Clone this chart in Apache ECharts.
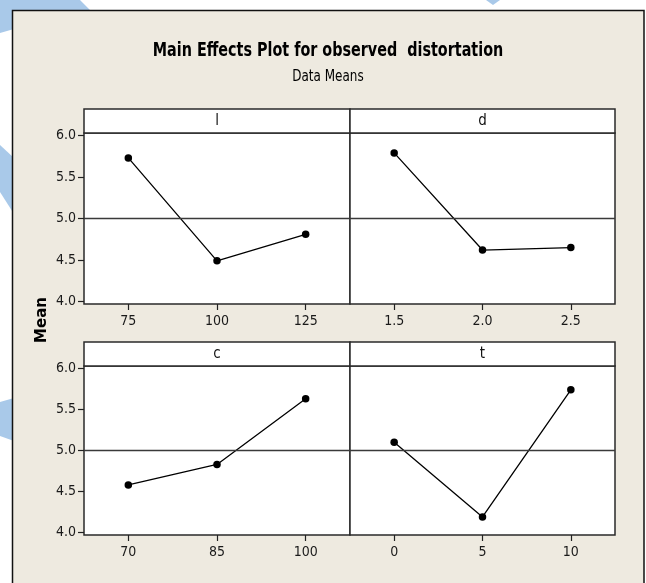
<!DOCTYPE html>
<html>
<head>
<meta charset="utf-8">
<script src="https://cdn.jsdelivr.net/npm/echarts@6/dist/echarts.min.js"></script>
<style>
html,body{margin:0;padding:0;background:#ffffff;}
#main{width:646px;height:583px;}
</style>
</head>
<body>
<div id="main"></div>
<script>
// ---- data ----
const chartTitle = 'Main Effects Plot for observed  distortation';
const chartSubtitle = 'Data Means';
const yAxisName = 'Mean';
const factors = ['l', 'd', 'c', 't'];
const levelsL = [75, 100, 125];
const meansL = [5.73, 4.49, 4.81];
const levelsD = [1.5, 2.0, 2.5];
const meansD = [5.79, 4.62, 4.65];
const levelsC = [70, 85, 100];
const meansC = [4.58, 4.83, 5.63];
const levelsT = [0, 5, 10];
const meansT = [5.10, 4.19, 5.74];
const levelDecimals = [0, 1, 0, 0];
const yTicks = [4.0, 4.5, 5.0, 5.5, 6.0];
const grandMean = 5.0;
const yMin = 3.97, yMax = 6.03;

const levels = [levelsL, levelsD, levelsC, levelsT];
const means = [meansL, meansD, meansC, meansT];

// ---- layout ----
const narrow = "'Liberation Sans Narrow','DejaVu Sans Condensed','Arial Narrow',sans-serif";
const panelLeft = [84, 350, 84, 350];
const panelWidth = [266, 265, 266, 265];
const panelTop = [133, 133, 366, 366];
const panelHeight = [171, 171, 169, 169];
const headerH = 24;

const chart = echarts.init(document.getElementById('main'), null, {renderer: 'canvas'});

const grids = [], xAxes = [], yAxes = [], series = [];
for (let i = 0; i < 4; i++) {
  grids.push({
    left: panelLeft[i], top: panelTop[i], width: panelWidth[i], height: panelHeight[i],
    show: true, backgroundColor: '#ffffff', borderColor: '#2a2a2a', borderWidth: 1.5
  });
  const lv = levels[i];
  const step = lv[1] - lv[0];
  const dec = levelDecimals[i];
  xAxes.push({
    gridIndex: i, type: 'value',
    min: lv[0] - step / 2, max: lv[lv.length - 1] + step / 2,
    axisLine: {show: false},
    splitLine: {show: false},
    axisTick: {show: true, customValues: lv, length: 6, lineStyle: {color: '#222', width: 1.2}},
    axisLabel: {show: true, customValues: lv, margin: 10, fontSize: 14, color: '#1a1a1a', fontFamily: narrow,
      formatter: v => Number(v).toFixed(dec)}
  });
  const showY = (i % 2 === 0);
  yAxes.push({
    gridIndex: i, type: 'value', min: yMin, max: yMax,
    axisLine: {show: false},
    splitLine: {show: false},
    axisTick: {show: showY, customValues: yTicks, length: 6, lineStyle: {color: '#222', width: 1.2}},
    axisLabel: {show: showY, customValues: yTicks, margin: 8, fontSize: 14, color: '#1a1a1a', fontFamily: narrow,
      formatter: v => Number(v).toFixed(1)}
  });
  series.push({
    type: 'line', xAxisIndex: i, yAxisIndex: i,
    data: lv.map((x, k) => [x, means[i][k]]),
    symbol: 'circle', symbolSize: 7.5,
    itemStyle: {color: '#000'},
    lineStyle: {color: '#000', width: 1.3},
    silent: true, animation: false,
    markLine: {
      silent: true, symbol: 'none', label: {show: false}, animation: false,
      lineStyle: {color: '#3a3a3a', width: 1.3, type: 'solid'},
      data: [{yAxis: grandMean}]
    }
  });
}

const graphics = [
  // watermark shapes behind the frame
  {type: 'polygon', z: -10, shape: {points: [[0,0],[80,0],[92,12],[14,29],[0,33]]}, style: {fill: '#a9c9e9'}},
  {type: 'polygon', z: -10, shape: {points: [[486,0],[500,0],[493,5]]}, style: {fill: '#a9c9e9'}},
  {type: 'polygon', z: -10, shape: {points: [[0,145],[14,158],[14,214],[0,192]]}, style: {fill: '#a9c9e9'}},
  {type: 'polygon', z: -10, shape: {points: [[0,402],[14,398],[14,441],[0,436]]}, style: {fill: '#a9c9e9'}},
  // beige frame
  {type: 'rect', z: -5, shape: {x: 12.5, y: 10.5, width: 631.5, height: 600}, style: {fill: '#eeeae0', stroke: '#111', lineWidth: 1.5}},
  // titles
  {type: 'text', x: 328, y: 51, scaleX: 0.84, style: {text: chartTitle, textAlign: 'center', textVerticalAlign: 'middle',
    font: "bold 19px " + narrow, fill: '#000'}},
  {type: 'text', x: 328, y: 77, scaleX: 0.89, style: {text: chartSubtitle, textAlign: 'center', textVerticalAlign: 'middle',
    font: "15px " + narrow, fill: '#000'}},
  // y axis name
  {type: 'text', x: 42, y: 320, rotation: Math.PI / 2, style: {text: yAxisName, textAlign: 'center', textVerticalAlign: 'middle',
    font: "bold 15px 'DejaVu Sans',sans-serif", fill: '#000'}}
];
// header strips
for (let i = 0; i < 4; i++) {
  graphics.push({type: 'rect', z: 5, shape: {x: panelLeft[i], y: panelTop[i] - headerH, width: panelWidth[i], height: headerH},
    style: {fill: '#ffffff', stroke: '#2a2a2a', lineWidth: 1.5}});
  graphics.push({type: 'text', z: 6, x: panelLeft[i] + panelWidth[i] / 2, y: panelTop[i] - headerH / 2,
    style: {text: factors[i], textAlign: 'center', textVerticalAlign: 'middle', font: "15px " + narrow, fill: '#111'}});
}

chart.setOption({
  backgroundColor: '#ffffff',
  animation: false,
  grid: grids, xAxis: xAxes, yAxis: yAxes, series: series,
  graphic: graphics
});
</script>
</body>
</html>
